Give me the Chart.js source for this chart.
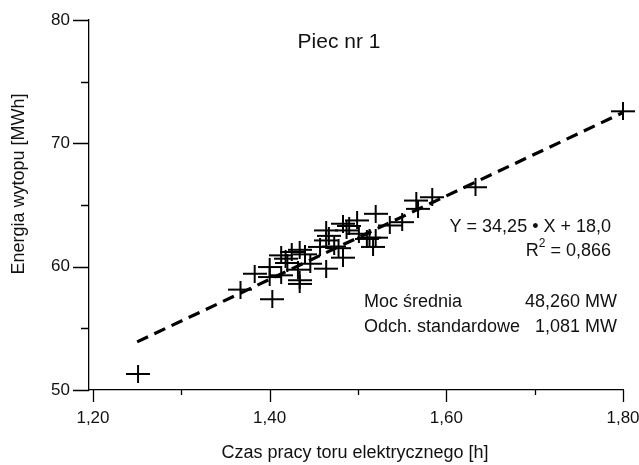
<!DOCTYPE html>
<html>
<head>
<meta charset="utf-8">
<script src="https://cdn.jsdelivr.net/npm/chart.js@4/dist/chart.umd.min.js"></script>
<style>
  html, body { margin: 0; padding: 0; background: #fff; }
  #wrap { width: 639px; height: 465px; }
</style>
</head>
<body>
<div id="wrap"><canvas id="c" width="639" height="465"></canvas></div>
<script>
// ---- data ----
const xValues = [1.251, 1.367, 1.383, 1.400, 1.400, 1.403, 1.413, 1.413, 1.418, 1.420,
                 1.425, 1.432, 1.434, 1.434, 1.434, 1.440, 1.446, 1.457, 1.464, 1.464,
                 1.464, 1.467, 1.473, 1.478, 1.483, 1.483, 1.487, 1.490, 1.499, 1.501,
                 1.510, 1.513, 1.520, 1.517, 1.520, 1.536, 1.550, 1.566, 1.568, 1.584,
                 1.633, 1.800];
const yValues = [51.30, 58.14, 59.43, 59.16, 59.97, 57.36, 59.30, 60.92, 60.65, 60.30,
                 61.19, 59.76, 61.37, 58.90, 58.60, 61.00, 60.24, 61.60, 62.94, 62.13,
                 59.84, 62.50, 61.64, 61.50, 63.48, 60.73, 62.94, 63.30, 63.75, 62.67,
                 62.25, 62.35, 62.35, 61.60, 64.29, 63.34, 63.61, 65.36, 64.69, 65.63,
                 66.44, 72.60];
const fitX = [1.25, 1.80];
const fitY = [53.9, 72.5];
const xTickValues = [1.2, 1.3, 1.4, 1.5, 1.6, 1.7, 1.8];
const xTickLabels = ['1,20', '', '1,40', '', '1,60', '', '1,80'];
const yTickValues = [50, 55, 60, 65, 70, 75, 80];
const yTickLabels = ['50', '', '60', '', '70', '', '80'];
const titleText = 'Piec nr 1';
const xTitle = 'Czas pracy toru elektrycznego [h]';
const yTitle = 'Energia wytopu [MWh]';
const eqText = 'Y = 34,25 \u2022 X + 18,0';
const r2Value = ' = 0,866';
const statLabels = ['Moc średnia', 'Odch. standardowe'];
const statValues = ['48,260 MW', '1,081 MW'];

const FONT = '"Liberation Sans", Arial, Helvetica, sans-serif';

// plus-shaped marker
function makePlus(w, h, lw) {
  const c = document.createElement('canvas');
  c.width = w; c.height = h;
  const g = c.getContext('2d');
  g.fillStyle = '#000';
  g.fillRect(0, Math.floor(h / 2) - lw / 2, w, lw);
  g.fillRect(Math.floor(w / 2) - lw / 2, 0, lw, h);
  return c;
}
const plus = makePlus(24, 18, 2);

const decor = {
  id: 'decor',
  afterDraw(chart) {
    const ctx = chart.ctx;
    const xs = chart.scales.x, ys = chart.scales.y, a = chart.chartArea;
    ctx.save();
    ctx.strokeStyle = '#000';
    ctx.lineWidth = 1.3;
    ctx.beginPath();
    xTickValues.forEach((v, i) => {
      const px = Math.round(xs.getPixelForValue(v)) + 0.5;
      const len = xTickLabels[i] ? 12 : 5;
      ctx.moveTo(px, a.bottom); ctx.lineTo(px, a.bottom + len);
    });
    yTickValues.forEach((v, i) => {
      const py = Math.round(ys.getPixelForValue(v)) + 0.5;
      const len = yTickLabels[i] ? 16 : 8;
      ctx.moveTo(a.left - len, py); ctx.lineTo(a.left, py);
    });
    ctx.stroke();

    ctx.fillStyle = '#111';
    ctx.textBaseline = 'middle';
    // title
    ctx.font = '21px ' + FONT;
    ctx.textAlign = 'center';
    ctx.fillText(titleText, 339, 42);
    // axis titles
    ctx.font = '18px ' + FONT;
    ctx.fillText(xTitle, 355, 453);
    ctx.save();
    ctx.translate(19, 184);
    ctx.rotate(-Math.PI / 2);
    ctx.fillText(yTitle, 0, 0);
    ctx.restore();
    // equation
    ctx.font = '18px ' + FONT;
    ctx.textAlign = 'right';
    ctx.fillText(eqText, 611, 227);
    // R^2
    const rw = ctx.measureText(r2Value).width;
    ctx.fillText(r2Value, 611, 251);
    ctx.font = '12px ' + FONT;
    const sw = ctx.measureText('2').width;
    ctx.fillText('2', 611 - rw, 244);
    ctx.font = '18px ' + FONT;
    ctx.fillText('R', 611 - rw - sw, 251);
    // stats
    ctx.textAlign = 'left';
    ctx.fillText(statLabels[0], 364, 302);
    ctx.fillText(statLabels[1], 364, 327);
    ctx.textAlign = 'right';
    ctx.fillText(statValues[0], 617, 302);
    ctx.fillText(statValues[1], 617, 327);
    ctx.restore();
  }
};

new Chart(document.getElementById('c'), {
  type: 'scatter',
  data: {
    datasets: [
      {
        data: xValues.map((x, i) => ({ x: x, y: yValues[i] })),
        pointStyle: plus,
        pointRadius: 10,
        pointHoverRadius: 10,
        showLine: false,
        clip: false
      },
      {
        data: fitX.map((x, i) => ({ x: x, y: fitY[i] })),
        showLine: true,
        borderColor: '#000',
        borderWidth: 3.2,
        borderDash: [12, 7],
        pointRadius: 0,
        fill: false
      }
    ]
  },
  options: {
    responsive: false,
    animation: false,
    devicePixelRatio: 1,
    layout: { padding: { top: 20, right: 16, left: 0, bottom: 0 } },
    plugins: { legend: { display: false }, tooltip: { enabled: false } },
    scales: {
      x: {
        type: 'linear',
        min: 1.1955,
        max: 1.8,
        afterBuildTicks: s => { s.ticks = xTickValues.map(v => ({ value: v })); },
        afterFit: s => { s.height = 75; s.paddingLeft = 0; s.paddingRight = 0; },
        ticks: {
          callback: (v, i) => xTickLabels[i],
          font: { family: FONT, size: 17 },
          color: '#111',
          padding: 18,
          maxRotation: 0,
          autoSkip: false
        },
        grid: { drawOnChartArea: false, drawTicks: false },
        border: { display: true, color: '#000', width: 1.3 }
      },
      y: {
        type: 'linear',
        min: 50,
        max: 80,
        afterBuildTicks: s => { s.ticks = yTickValues.map(v => ({ value: v })); },
        afterFit: s => { s.width = 89; s.paddingTop = 0; s.paddingBottom = 0; },
        ticks: {
          callback: (v, i) => yTickLabels[i],
          font: { family: FONT, size: 17 },
          color: '#111',
          padding: 19,
          autoSkip: false
        },
        grid: { drawOnChartArea: false, drawTicks: false },
        border: { display: true, color: '#000', width: 1.3 }
      }
    }
  },
  plugins: [decor]
});
</script>
</body>
</html>
